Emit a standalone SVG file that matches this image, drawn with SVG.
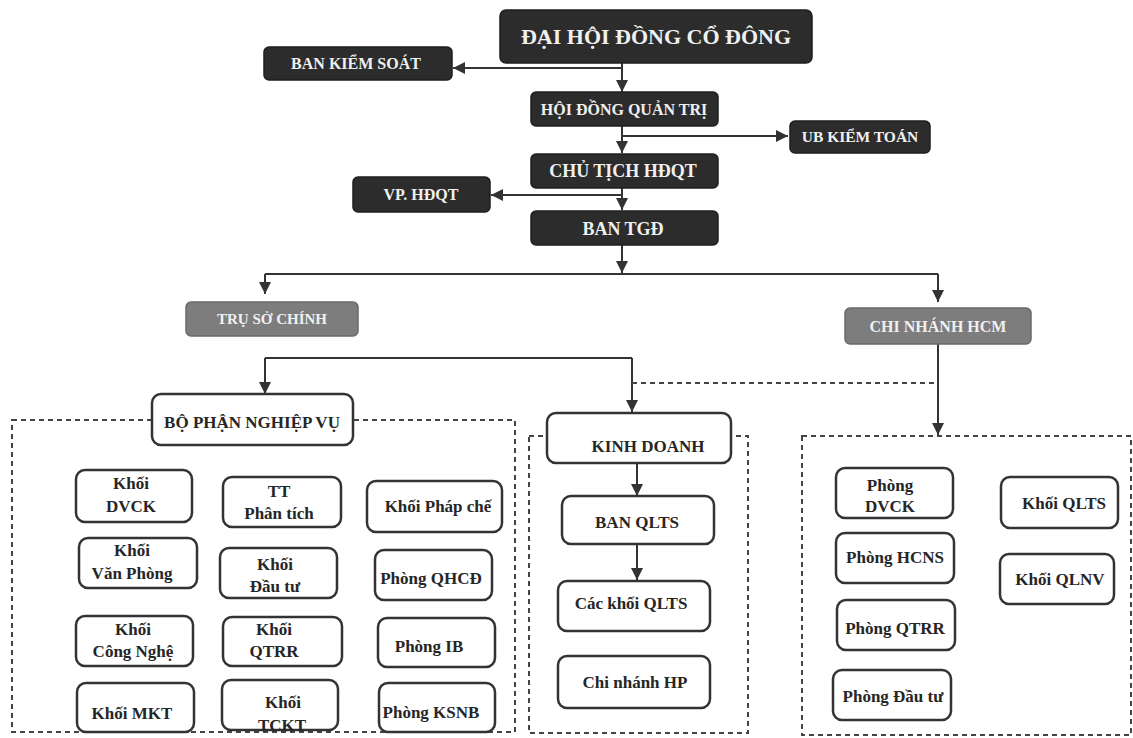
<svg xmlns="http://www.w3.org/2000/svg" width="1133" height="738" viewBox="0 0 1133 738">
<style>
.dark{fill:#2c2c2c;stroke:#1e1e1e;stroke-width:1.5}
.gray{fill:#7d7d7d;stroke:#6a6a6a;stroke-width:1.5}
.box{fill:#ffffff;stroke:#333333;stroke-width:2.5}
.grp{fill:none;stroke:#444444;stroke-width:2;stroke-dasharray:5 4}
.wt{font-family:"Liberation Serif","DejaVu Serif",serif;font-weight:bold;fill:#f0f0f0;text-anchor:middle}
.bt{font-family:"Liberation Serif","DejaVu Serif",serif;font-weight:bold;fill:#262626;text-anchor:middle;font-size:17px}
.ln{fill:none;stroke:#333333;stroke-width:2}
.ar{fill:none;stroke:#333333;stroke-width:2;marker-end:url(#ah)}
.dl{fill:none;stroke:#444444;stroke-width:2;stroke-dasharray:5 4}
</style>
<defs>
<marker id="ah" viewBox="0 0 10 10" refX="10" refY="5" markerWidth="6" markerHeight="6" markerUnits="strokeWidth" orient="auto">
<path d="M0,0 L10,5 L0,10 z" fill="#333333"/>
</marker>
</defs>
<rect width="1133" height="738" fill="#ffffff"/>

<g id="groups">
<rect class="grp" x="12" y="420" width="503" height="312"/>
<rect class="grp" x="529" y="436" width="219" height="297"/>
<rect class="grp" x="802" y="436" width="329" height="299"/>
</g>

<g id="connectors">
<line class="ar" x1="622" y1="63" x2="622" y2="92"/>
<line class="ar" x1="622" y1="68" x2="453" y2="68"/>
<line class="ar" x1="622" y1="126" x2="622" y2="153"/>
<line class="ar" x1="622" y1="136" x2="788" y2="136"/>
<line class="ar" x1="622" y1="188" x2="622" y2="210"/>
<line class="ar" x1="622" y1="195" x2="491" y2="195"/>
<line class="ar" x1="622" y1="245" x2="622" y2="273"/>
<polyline class="ln" points="265,274 938,274"/>
<line class="ar" x1="265" y1="274" x2="265" y2="294"/>
<line class="ar" x1="938" y1="274" x2="938" y2="302"/>
<polyline class="ln" points="265,358 632,358"/>
<line class="ar" x1="265" y1="358" x2="265" y2="394"/>
<line class="ar" x1="632" y1="358" x2="632" y2="412"/>
<line class="dl" x1="632" y1="383" x2="938" y2="383"/>
<line class="ar" x1="938" y1="344" x2="938" y2="435"/>
<line class="ar" x1="637" y1="463" x2="637" y2="496"/>
<line class="ar" x1="637" y1="544" x2="637" y2="580"/>
</g>

<g id="n_dhdcd"><rect class="dark" x="500" y="10" width="312" height="53" rx="6"/><text class="wt" x="656" y="44" font-size="22">ĐẠI HỘI ĐỒNG CỔ ĐÔNG</text></g>
<g id="n_bks"><rect class="dark" x="264" y="47" width="188" height="33" rx="5"/><text class="wt" x="356" y="69" font-size="16">BAN KIỂM SOÁT</text></g>
<g id="n_hdqt"><rect class="dark" x="531" y="92" width="187" height="34" rx="5"/><text class="wt" x="624" y="115" font-size="16">HỘI ĐỒNG QUẢN TRỊ</text></g>
<g id="n_ubkt"><rect class="dark" x="790" y="121" width="140" height="32" rx="5"/><text class="wt" x="860" y="142" font-size="15.5">UB KIỂM TOÁN</text></g>
<g id="n_ct"><rect class="dark" x="531" y="154" width="187" height="34" rx="5"/><text class="wt" x="623" y="177" font-size="18">CHỦ TỊCH HĐQT</text></g>
<g id="n_vp"><rect class="dark" x="353" y="177" width="137" height="35" rx="5"/><text class="wt" x="421" y="200" font-size="16">VP. HĐQT</text></g>
<g id="n_tgd"><rect class="dark" x="531" y="211" width="187" height="34" rx="5"/><text class="wt" x="623" y="235" font-size="18">BAN TGĐ</text></g>
<g id="n_tsc"><rect class="gray" x="186" y="302" width="172" height="34" rx="5"/><text class="wt" x="272" y="324" font-size="15">TRỤ SỞ CHÍNH</text></g>
<g id="n_cnhcm"><rect class="gray" x="845" y="308" width="186" height="36" rx="5"/><text class="wt" x="938" y="332" font-size="16">CHI NHÁNH HCM</text></g>

<g id="n_bpnv"><rect class="box" x="152" y="394" width="201" height="51" rx="9"/><text class="bt" x="252" y="428" font-size="16.5">BỘ PHẬN NGHIỆP VỤ</text></g>
<g id="n_dvck"><rect class="box" x="76" y="470" width="116" height="52" rx="9"/><text class="bt" x="131" y="489">Khối</text><text class="bt" x="131" y="512">DVCK</text></g>
<g id="n_ttpt"><rect class="box" x="223" y="477" width="118" height="50" rx="9"/><text class="bt" x="279" y="497">TT</text><text class="bt" x="279" y="519">Phân tích</text></g>
<g id="n_pc"><rect class="box" x="367" y="481" width="135" height="51" rx="9"/><text class="bt" x="438" y="512">Khối Pháp chế</text></g>
<g id="n_vphong"><rect class="box" x="79" y="538" width="118" height="50" rx="9"/><text class="bt" x="132" y="556">Khối</text><text class="bt" x="132" y="579">Văn Phòng</text></g>
<g id="n_dautu"><rect class="box" x="220" y="548" width="117" height="50" rx="9"/><text class="bt" x="275" y="570">Khối</text><text class="bt" x="275" y="592">Đầu tư</text></g>
<g id="n_qhcd"><rect class="box" x="375" y="550" width="117" height="50" rx="9"/><text class="bt" x="431" y="584">Phòng QHCĐ</text></g>
<g id="n_cn"><rect class="box" x="76" y="616" width="117" height="50" rx="9"/><text class="bt" x="133" y="635">Khối</text><text class="bt" x="133" y="657">Công Nghệ</text></g>
<g id="n_qtrr"><rect class="box" x="223" y="617" width="119" height="49" rx="9"/><text class="bt" x="274" y="635">Khối</text><text class="bt" x="274" y="657">QTRR</text></g>
<g id="n_ib"><rect class="box" x="378" y="618" width="117" height="49" rx="9"/><text class="bt" x="429" y="652">Phòng IB</text></g>
<g id="n_mkt"><rect class="box" x="77" y="683" width="117" height="49" rx="9"/><text class="bt" x="132" y="719">Khối MKT</text></g>
<g id="n_tckt"><rect class="box" x="222" y="680" width="116" height="50" rx="9"/><text class="bt" x="283" y="708">Khối</text><text class="bt" x="282" y="731">TCKT</text></g>
<g id="n_ksnb"><rect class="box" x="379" y="683" width="116" height="49" rx="9"/><text class="bt" x="431" y="718">Phòng KSNB</text></g>

<g id="n_kd"><rect class="box" x="547" y="413" width="184" height="50" rx="9"/><text class="bt" x="648" y="452">KINH DOANH</text></g>
<g id="n_banqlts"><rect class="box" x="562" y="496" width="152" height="48" rx="9"/><text class="bt" x="637" y="528">BAN QLTS</text></g>
<g id="n_cacqlts"><rect class="box" x="558" y="581" width="152" height="50" rx="9"/><text class="bt" x="631" y="609">Các khối QLTS</text></g>
<g id="n_cnhp"><rect class="box" x="558" y="656" width="152" height="52" rx="9"/><text class="bt" x="635" y="688">Chi nhánh HP</text></g>

<g id="n_pdvck"><rect class="box" x="836" y="468" width="117" height="50" rx="9"/><text class="bt" x="890" y="491">Phòng</text><text class="bt" x="890" y="512">DVCK</text></g>
<g id="n_hcns"><rect class="box" x="836" y="533" width="118" height="50" rx="9"/><text class="bt" x="895" y="563">Phòng HCNS</text></g>
<g id="n_pqtrr"><rect class="box" x="837" y="600" width="118" height="50" rx="9"/><text class="bt" x="895" y="634">Phòng QTRR</text></g>
<g id="n_pdt"><rect class="box" x="833" y="670" width="118" height="50" rx="9"/><text class="bt" x="893" y="702">Phòng Đầu tư</text></g>
<g id="n_kqlts"><rect class="box" x="1001" y="477" width="117" height="51" rx="9"/><text class="bt" x="1064" y="509">Khối QLTS</text></g>
<g id="n_kqlnv"><rect class="box" x="1000" y="554" width="114" height="50" rx="9"/><text class="bt" x="1060" y="585">Khối QLNV</text></g>
</svg>
